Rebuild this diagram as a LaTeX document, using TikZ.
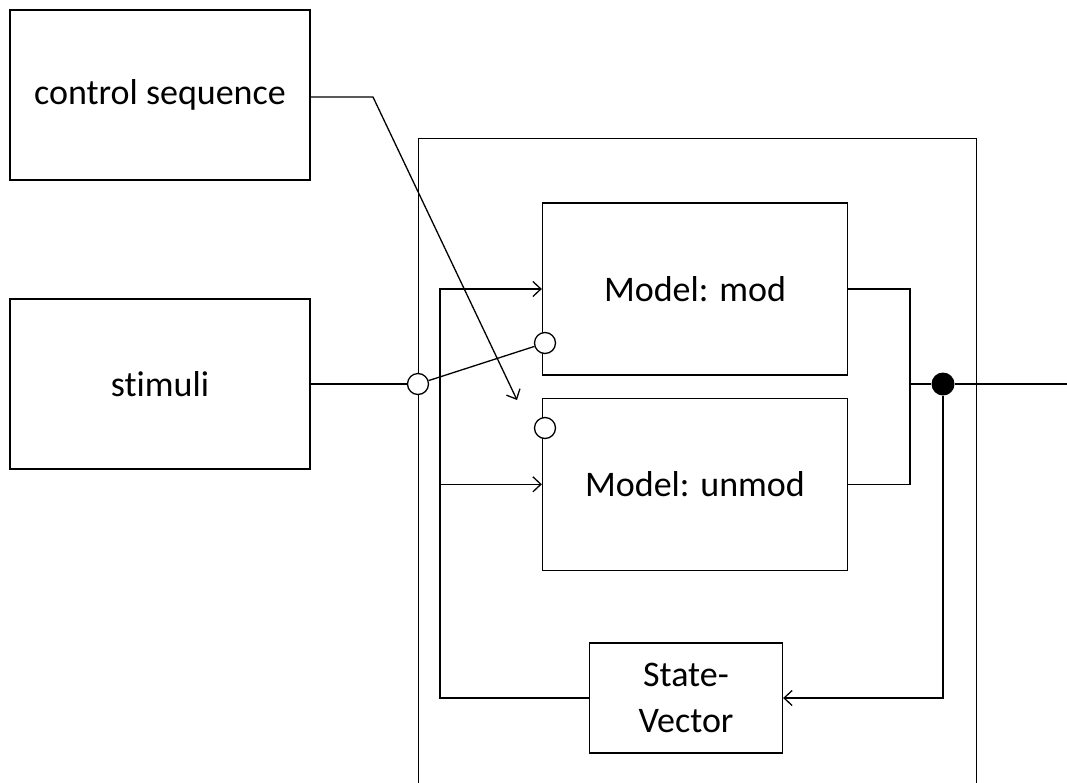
\documentclass[tikz,border=0pt]{standalone}
\usepackage{fontspec}
\setmainfont[Ligatures=NoCommon]{Carlito}
\usepackage{tikz}
\usetikzlibrary{positioning,arrows.meta}

\begin{document}
\begin{tikzpicture}
[
x=1pt, y=-1pt,
line width=1.3pt,
box-a/.style={draw, fill=white, inner sep=0pt, font=\fontsize{36}{46}\selectfont, align=center},
port-a/.style={circle, draw, fill=white, inner sep=0pt, minimum size=21pt},
dot-a/.style={circle, fill=black, inner sep=0pt, minimum size=23pt},
arr/.style={-{Straight Barb[length=8pt, width=15pt]}}
]
\clip (0,0) rectangle (1067,782);
\useasboundingbox (0,0) rectangle (1067,782);
\node (frame)  [box-a, fill=none, minimum width=558pt, minimum height=680pt, anchor=north west] at (418,138) {};
\node (ctrl)   [box-a, minimum width=300pt, minimum height=170pt]  at (160,95)  {control sequence};
\node (stim)   [box-a, minimum width=300pt, minimum height=170pt]  at (160,384) {stimuli};
\node (mod)    [box-a, minimum width=305pt, minimum height=172pt]  at (695,289) {Model: mod};
\node (unmod)  [box-a, below = 22pt of mod, minimum width=305pt, minimum height=172pt] {Model: unmod};
\node (sv)     [box-a, minimum width=193pt, minimum height=110pt]  at (686,698) {State-\\Vector};
\coordinate (bend)  at (373,97);
\coordinate (aim)   at (517,400);
\coordinate (bus)   at (440,289);
\coordinate (join)  at (910,384);
\coordinate (out)   at (1067,384);
% switch
\node (sw-in)    [port-a] at (418,384) {};
\node (sw-mod)   [port-a] at (545,343) {};
\node (sw-unmod) [port-a] at (545,428) {};
\node (tap)      [dot-a]  at (943,384) {};
\draw (stim.east) -- (sw-in);
\draw (sw-in) -- (sw-mod);
\draw[arr] (ctrl.east |- bend) -- (bend) -- (aim);
% feedback bus
\draw[arr] (sv.west) -| (bus) -- (mod.west);
\draw[arr] (bus |- unmod.west) -- (unmod.west);
\draw (mod.east) -| (join) |- (unmod.east);
\draw (join) -- (tap) -- (out);
\draw[arr] (tap) |- (sv.east);
\end{tikzpicture}
\end{document}
